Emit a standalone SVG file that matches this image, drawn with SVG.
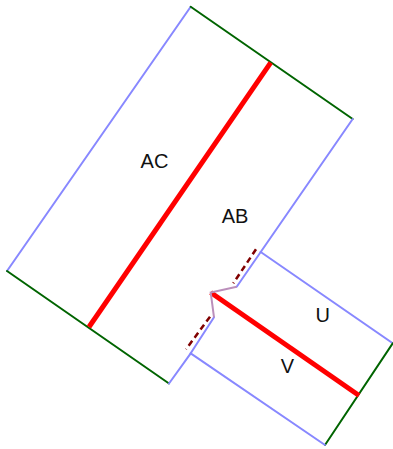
<svg xmlns="http://www.w3.org/2000/svg" width="393" height="449" viewBox="0 0 393 449">
<style>
.blue{stroke:#8888ff;stroke-width:2;fill:none;stroke-linecap:round}
.green{stroke:#006400;stroke-width:2;fill:none;stroke-linecap:round}
.red{stroke:#ff0000;stroke-width:5;fill:none}
.dash{stroke:#800000;stroke-width:2.5;fill:none;stroke-dasharray:6,4}
.purple{stroke:#bb8fbb;stroke-width:2;fill:none}
.lbl{font-family:"Liberation Sans",Arial,sans-serif;font-size:20px;fill:#111;text-anchor:middle}
</style>
<rect width="393" height="449" fill="#fff"/>
<g id="rectAC">
<line class="blue" x1="7" y1="271" x2="190.7" y2="6.7"/>
<line class="green" x1="190.7" y1="6.7" x2="352.7" y2="119"/>
<line class="green" x1="7" y1="271" x2="169" y2="383.5"/>
<line class="blue" x1="352.7" y1="119" x2="260.7" y2="252"/>
<line class="blue" x1="190.7" y1="353.3" x2="169" y2="383.5"/>
</g>
<g id="rectUV">
<line class="blue" x1="260.7" y1="252" x2="392.7" y2="343.3"/>
<line class="green" x1="392.7" y1="343.3" x2="325" y2="445"/>
<line class="blue" x1="190.7" y1="353.3" x2="325" y2="445"/>
<line class="blue" x1="260.7" y1="252" x2="236.7" y2="286.7"/>
<line class="blue" x1="214" y1="317.3" x2="190.7" y2="353.3"/>
</g>
<g id="connectors">
<line class="red" x1="270.7" y1="62.7" x2="89" y2="327"/>
<line class="red" x1="210.7" y1="292.5" x2="359" y2="395.5"/>
<line class="dash" x1="256" y1="249.3" x2="233.3" y2="283.3"/>
<line class="dash" x1="210" y1="316.7" x2="186" y2="349.3"/>
<polyline class="purple" points="236.7,286.7 210.7,292.5 214,317.3"/>
</g>
<g id="labels">
<text class="lbl" x="154.5" y="167.7">AC</text>
<text class="lbl" x="235" y="222.7">AB</text>
<text class="lbl" x="322.7" y="322.3">U</text>
<text class="lbl" x="287.5" y="372.7">V</text>
</g>
</svg>
